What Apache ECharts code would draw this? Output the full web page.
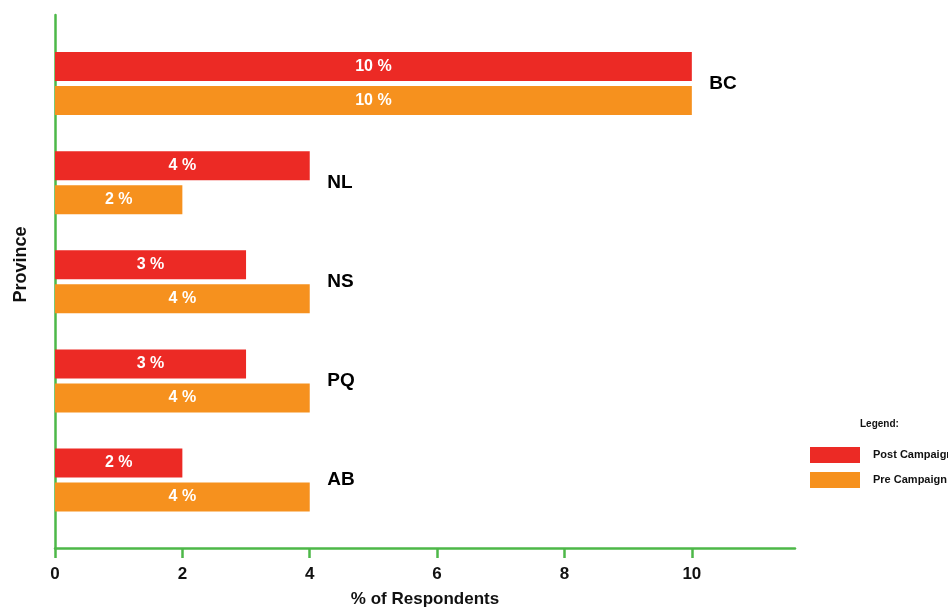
<!DOCTYPE html>
<html>
<head>
<meta charset="utf-8">
<script src="https://cdn.jsdelivr.net/npm/echarts@6/dist/echarts.min.js"></script>
<style>html,body{margin:0;padding:0;background:#fff;}#c{width:948px;height:609px;}</style>
</head>
<body>
<div id="c"></div>
<script>
const categories = ['BC', 'NL', 'NS', 'PQ', 'AB'];
const postCampaign = [10, 4, 3, 3, 2];
const preCampaign = [10, 2, 4, 4, 4];
const xTicks = [0, 2, 4, 6, 8, 10];
const seriesNames = ['Post Campaign', 'Pre Campaign'];

const RED = '#EC2A25', ORANGE = '#F6911E', GREEN = '#4DB848', INK = '#111111';
const FONT = 'Liberation Sans';
const XMAX = 11.62;

const chart = echarts.init(document.getElementById('c'), null, {renderer: 'canvas'});
const labelData = categories.map((c, i) => ({name: c, value: [Math.max(postCampaign[i], preCampaign[i]), c]}));

chart.setOption({
  animation: false,
  textStyle: {fontFamily: FONT},
  title: {text: 'Legend:', left: 860, top: 419, padding: 0, textStyle: {fontSize: 10, fontWeight: 'bold', color: INK, fontFamily: FONT}},
  legend: {
    data: seriesNames, orient: 'vertical', left: 810, top: 447, padding: 0,
    itemWidth: 50, itemHeight: 16, itemGap: 9, icon: 'rect',
    textStyle: {fontSize: 11, fontWeight: 'bold', color: INK, fontFamily: FONT, padding: [0, 0, 0, 8]}
  },
  grid: [
    {left: 55, right: 153, top: 34, bottom: 79.4, outerBoundsMode: 'none', containLabel: false},
    {left: 55, right: 153, top: 15, bottom: 61, outerBoundsMode: 'none', containLabel: false}
  ],
  xAxis: [
    {gridIndex: 0, type: 'value', min: 0, max: XMAX, show: false},
    {gridIndex: 1, type: 'value', min: 0, max: XMAX, interval: 2,
     axisLine: {show: true, lineStyle: {color: GREEN, width: 2.5}},
     axisTick: {show: true, length: 10, lineStyle: {color: GREEN, width: 2.5},
       customValues: xTicks},
     axisLabel: {fontSize: 17, fontWeight: 'bold', color: INK, margin: 18, fontFamily: FONT,
       customValues: xTicks},
     splitLine: {show: false},
     name: '% of Respondents', nameLocation: 'middle', nameGap: 43,
     nameTextStyle: {fontSize: 17, fontWeight: 'bold', color: INK, fontFamily: FONT}}
  ],
  yAxis: [
    {gridIndex: 0, type: 'category', data: categories, inverse: true, show: false},
    {gridIndex: 1, type: 'value', min: 0, max: 1,
     axisLine: {show: true, lineStyle: {color: GREEN, width: 2.5}},
     axisTick: {show: false}, axisLabel: {show: false}, splitLine: {show: false},
     name: 'Province', nameLocation: 'middle', nameGap: 25, nameRotate: 90,
     nameTextStyle: {fontSize: 18, fontWeight: 'bold', color: INK, fontFamily: FONT, padding: [0, 0, 0, 34]}}
  ],
  series: [
    {name: seriesNames[0], type: 'bar', xAxisIndex: 0, yAxisIndex: 0, data: postCampaign,
     barWidth: 29, barGap: '17%', itemStyle: {color: RED},
     label: {show: true, position: 'inside', color: '#fff', fontSize: 16, fontWeight: 'bold', fontFamily: FONT, formatter: '{c} %'}},
    {name: seriesNames[1], type: 'bar', xAxisIndex: 0, yAxisIndex: 0, data: preCampaign,
     barWidth: 29, barGap: '17%', itemStyle: {color: ORANGE},
     label: {show: true, position: 'inside', color: '#fff', fontSize: 16, fontWeight: 'bold', fontFamily: FONT, formatter: '{c} %'}},
    {name: 'labels', type: 'scatter', xAxisIndex: 0, yAxisIndex: 0, data: labelData,
     symbolSize: 1, itemStyle: {color: '#ffffff', opacity: 1}, silent: true,
     label: {show: true, position: 'right', distance: 17, formatter: '{b}', fontSize: 19, fontWeight: 'bold', color: '#000', opacity: 1, fontFamily: FONT}}
  ]
});
</script>
</body>
</html>
